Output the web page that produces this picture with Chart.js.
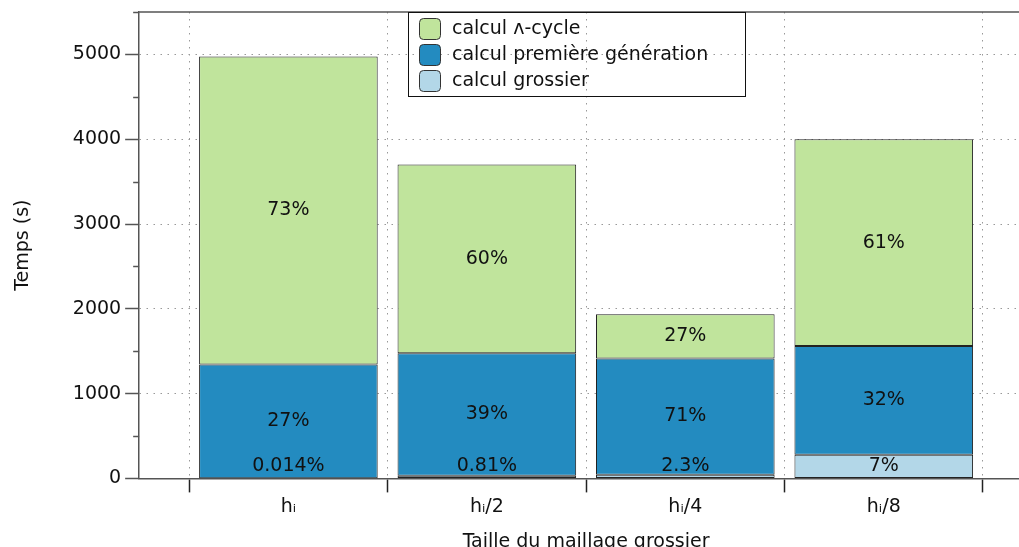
<!DOCTYPE html>
<html>
<head>
<meta charset="utf-8">
<title>Temps de calcul</title>
<script src="https://cdn.jsdelivr.net/npm/chart.js@4.4.0/dist/chart.umd.min.js"></script>
<style>
  html, body { margin: 0; padding: 0; overflow: hidden; background: #fff; }
  #wrap { width: 1045px; height: 557px; }
</style>
</head>
<body>
<div id="wrap"><canvas id="tempsChart"></canvas></div>
<script>
// mesh sizes and total run time (s)
const categories = ['hᵢ', 'hᵢ/2', 'hᵢ/4', 'hᵢ/8'];
const totalTime = [4975, 3710, 1930, 4000];

// share of the total for each step (%)
const pctGrossier = [0.014, 0.81, 2.3, 7];
const pctPremiere = [27, 39, 71, 32];
const pctCycle = [73, 60, 27, 61];

// y axis: labelled ticks and the short ones in between
const yTicks = [0, 1000, 2000, 3000, 4000, 5000];
const yMinorTicks = [500, 1500, 2500, 3500, 4500, 5500];

const seriesNames = ['calcul ʌ-cycle', 'calcul première génération', 'calcul grossier'];
const seriesColors = ['#c0e49c', '#238bc0', '#b3d7e8'];

const toSeconds = pcts => pcts.map((p, i) => ({ x: i, y: totalTime[i] * p / 100, pct: p }));

Chart.defaults.font.family = '"DejaVu Sans", sans-serif';
Chart.defaults.font.size = 19;
Chart.defaults.color = '#111';

const dsStyle = {
  borderColor: '#222',
  borderWidth: 1,
  borderSkipped: false,
  barPercentage: 0.9,
  categoryPercentage: 1,
};

// top frame line
const frame = {
  id: 'frame',
  beforeDatasetsDraw(chart) {
    const { ctx, chartArea: a } = chart;
    ctx.save();
    ctx.strokeStyle = '#555';
    ctx.lineWidth = 1.5;
    ctx.beginPath();
    ctx.moveTo(a.left, a.top);
    ctx.lineTo(a.right, a.top);
    ctx.stroke();
    ctx.restore();
  }
};

// short ticks every 500 s
const minorTicks = {
  id: 'minorTicks',
  afterDraw(chart) {
    const { ctx, scales: { y } } = chart;
    ctx.save();
    ctx.strokeStyle = '#555';
    ctx.lineWidth = 1.5;
    yMinorTicks.forEach(v => {
      const py = Math.round(y.getPixelForValue(v)) + 0.5;
      ctx.beginPath();
      ctx.moveTo(y.right - 6, py);
      ctx.lineTo(y.right, py);
      ctx.stroke();
    });
    ctx.restore();
  }
};

// percentage written in each segment
const pctLabels = {
  id: 'pctLabels',
  afterDatasetsDraw(chart) {
    const { ctx, scales: { y } } = chart;
    ctx.save();
    ctx.fillStyle = '#111';
    ctx.font = '19px "DejaVu Sans", sans-serif';
    ctx.textAlign = 'center';
    ctx.textBaseline = 'middle';
    chart.data.datasets.forEach((ds, di) => {
      const meta = chart.getDatasetMeta(di);
      meta.data.forEach((bar, i) => {
        const lo = y.getValueForPixel(bar.base);
        const hi = y.getValueForPixel(bar.y);
        const mid = Math.max((lo + hi) / 2, 140);
        ctx.fillText(ds.data[i].pct + '%', bar.x, y.getPixelForValue(mid));
      });
    });
    ctx.restore();
  }
};

// legend box inside the plot, top centre
const legendBox = {
  id: 'legendBox',
  afterDraw(chart) {
    const { ctx, chartArea: a } = chart;
    const x0 = 408, y0 = Math.round(a.top), w = 337, h = 84;
    ctx.save();
    ctx.strokeStyle = '#111';
    ctx.lineWidth = 1;
    ctx.strokeRect(x0 + 0.5, y0 + 0.5, w, h);
    ctx.font = '19px "DejaVu Sans", sans-serif';
    ctx.textBaseline = 'middle';
    ctx.textAlign = 'left';
    seriesNames.forEach((name, k) => {
      const cy = y0 + 17 + k * 26;
      ctx.beginPath();
      ctx.roundRect(x0 + 11.5, cy - 10.5, 21, 21, 4);
      ctx.fillStyle = seriesColors[k];
      ctx.fill();
      ctx.strokeStyle = '#333';
      ctx.stroke();
      ctx.fillStyle = '#111';
      ctx.fillText(name, x0 + 44, cy);
    });
    ctx.restore();
  }
};

new Chart(document.getElementById('tempsChart'), {
  type: 'bar',
  data: {
    datasets: [
      { label: seriesNames[2], data: toSeconds(pctGrossier), backgroundColor: seriesColors[2], ...dsStyle },
      { label: seriesNames[1], data: toSeconds(pctPremiere), backgroundColor: seriesColors[1], ...dsStyle },
      { label: seriesNames[0], data: toSeconds(pctCycle), backgroundColor: seriesColors[0], ...dsStyle },
    ],
  },
  options: {
    responsive: true,
    maintainAspectRatio: false,
    animation: false,
    layout: { padding: { top: 12, right: 12, left: 8, bottom: 0 } },
    plugins: { legend: { display: false }, tooltip: { enabled: false } },
    scales: {
      x: {
        type: 'linear',
        stacked: true,
        min: -0.752,
        max: 3.752,
        offset: false,
        afterBuildTicks: scale => { scale.ticks = categories.map((c, i) => ({ value: i })); },
        ticks: {
          callback: v => categories[v],
          maxRotation: 0,
          padding: 3,
        },
        grid: { offset: true, color: '#999', tickColor: '#222', tickLength: 14, tickWidth: 1.5 },
        border: { color: '#555', width: 1.5, dash: [1.5, 5.5] },
        title: { display: true, text: 'Taille du maillage grossier', padding: { top: 9 } },
      },
      y: {
        stacked: true,
        min: 0,
        max: 5500,
        afterBuildTicks: scale => { scale.ticks = yTicks.map(v => ({ value: v })); },
        afterFit: scale => { scale.paddingTop = 0; },
        ticks: {
          padding: 4,
          callback: v => String(v),
        },
        grid: {
          color: c => (c.tick && c.tick.value > 0 ? '#999' : 'rgba(0,0,0,0)'),
          tickColor: '#555',
          tickLength: 14,
          tickWidth: 1.5,
        },
        border: { color: '#555', width: 1.5, dash: [1.5, 5.5] },
        title: { display: true, text: 'Temps (s)', padding: { bottom: 34 } },
      },
    },
  },
  plugins: [frame, minorTicks, pctLabels, legendBox],
});
</script>
</body>
</html>
